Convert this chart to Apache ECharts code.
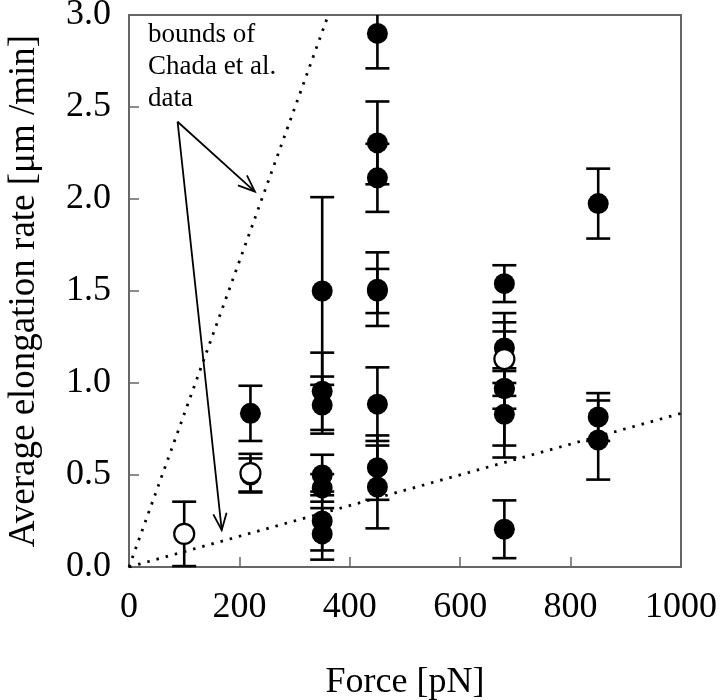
<!DOCTYPE html>
<html>
<head>
<meta charset="utf-8">
<script src="https://cdn.jsdelivr.net/npm/echarts@6/dist/echarts.min.js"></script>
<style>
html,body{margin:0;padding:0;background:#fff;}
#chart{width:720px;height:700px;}
</style>
</head>
<body>
<div id="chart"></div>
<script>
// ---- data ----
const forceFilled = [220, 220, 350, 350, 350, 350, 350, 350, 350, 450, 450, 450, 450, 450, 450, 450, 450, 680, 680, 680, 680, 680, 680, 850, 850, 850];
const rateFilled  = [0.835, 0.50, 1.50, 0.955, 0.88, 0.50, 0.43, 0.25, 0.18, 2.90, 2.305, 2.115, 1.51, 1.50, 0.885, 0.54, 0.435, 1.54, 1.19, 0.97, 0.97, 0.83, 0.205, 1.975, 0.815, 0.69];
const errFilled   = [0.15, 0.09, 0.51, 0.21, 0.155, 0.11, 0.075, 0.16, 0.14, 0.19, 0.225, 0.185, 0.20, 0.12, 0.20, 0.175, 0.225, 0.10, 0.19, 0.31, 0.11, 0.235, 0.157, 0.19, 0.13, 0.215];

const forceOpen = [100, 220, 680];
const rateOpen  = [0.18, 0.51, 1.13];
const errOpen   = [0.175, 0.105, 0.20];

// bounds of Chada et al. data (dotted lines)
const upperBound = [[0, 0], [361, 3.0]];
const lowerBound = [[0, 0], [1000, 0.835]];

// annotation arrow (tail, heads) in data units
const arrowTail = [88, 2.42];
const arrowHeads = [[228, 2.04], [168, 0.20]];
const annotationLines = ['bounds of', 'Chada et al.', 'data'];

const xTicks = [0, 200, 400, 600, 800, 1000];
const yTicks = [0.0, 0.5, 1.0, 1.5, 2.0, 2.5, 3.0];

const xMin = 0, xMax = 1000, yMin = 0, yMax = 3.0;
const FONT = "'Liberation Serif','Times New Roman',serif";

function zip3(a, b, c) { return a.map((v, i) => [v, b[i], c[i]]); }

const errData = zip3(forceFilled, rateFilled, errFilled).concat(zip3(forceOpen, rateOpen, errOpen));

function renderErr(params, api) {
  const x = api.value(0), y = api.value(1), e = api.value(2);
  const hi = Math.min(y + e, yMax), lo = Math.max(y - e, yMin);
  const pHi = api.coord([x, hi]), pLo = api.coord([x, lo]);
  const half = 12;
  const style = { stroke: '#000', lineWidth: 2.6 };
  const children = [
    { type: 'line', shape: { x1: pHi[0], y1: pHi[1], x2: pLo[0], y2: pLo[1] }, style }
  ];
  if (y + e <= yMax) children.push({ type: 'line', shape: { x1: pHi[0] - half, y1: pHi[1], x2: pHi[0] + half, y2: pHi[1] }, style });
  if (y - e >= yMin) children.push({ type: 'line', shape: { x1: pLo[0] - half, y1: pLo[1], x2: pLo[0] + half, y2: pLo[1] }, style });
  return { type: 'group', children };
}

function renderArrow(params, api) {
  const t = api.coord([api.value(0), api.value(1)]);
  const h = api.coord([api.value(2), api.value(3)]);
  const ang = Math.atan2(h[1] - t[1], h[0] - t[0]);
  const L = 18, a = 0.38;
  const p1 = [h[0] - L * Math.cos(ang - a), h[1] - L * Math.sin(ang - a)];
  const p2 = [h[0] - L * Math.cos(ang + a), h[1] - L * Math.sin(ang + a)];
  const style = { stroke: '#000', lineWidth: 1.8, fill: null };
  return {
    type: 'group', children: [
      { type: 'line', shape: { x1: t[0], y1: t[1], x2: h[0], y2: h[1] }, style },
      { type: 'polyline', shape: { points: [p1, h, p2] }, style }
    ]
  };
}

const chart = echarts.init(document.getElementById('chart'), null, { renderer: 'canvas' });
chart.setOption({
  animation: false,
  backgroundColor: '#fff',
  grid: { left: 129, right: 39, top: 15, bottom: 133, show: true, borderColor: '#666', borderWidth: 2,
    containLabel: false, outerBoundsMode: 'none' },
  xAxis: {
    type: 'value', min: xMin, max: xMax, interval: 200,
    name: 'Force [pN]', nameLocation: 'middle', nameGap: 98,
    nameTextStyle: { fontFamily: FONT, fontSize: 36, color: '#000' },
    axisLine: { show: true, lineStyle: { color: '#666', width: 2 } },
    axisTick: { show: true, inside: true, length: 10, lineStyle: { color: '#666', width: 1.5 } },
    axisLabel: { fontFamily: FONT, fontSize: 36, color: '#000', margin: 23,
      formatter: v => xTicks.includes(v) ? String(v) : '' },
    splitLine: { show: false }
  },
  yAxis: {
    type: 'value', min: yMin, max: yMax, interval: 0.5,
    name: 'Average elongation rate [μm /min]', nameLocation: 'middle', nameGap: 86,
    nameTextStyle: { fontFamily: FONT, fontSize: 37, color: '#000' },
    axisLine: { show: true, lineStyle: { color: '#666', width: 2 } },
    axisTick: { show: true, inside: true, length: 10, lineStyle: { color: '#666', width: 1.5 } },
    axisLabel: { fontFamily: FONT, fontSize: 36, color: '#000', margin: 18,
      formatter: v => yTicks.some(t => Math.abs(t - v) < 1e-9) ? v.toFixed(1) : '' },
    splitLine: { show: false }
  },
  graphic: [{
    type: 'text', left: 148, top: 19, z: 100,
    style: { text: annotationLines.join('\n'), font: '27px ' + FONT, fill: '#000', lineHeight: 32 }
  }],
  series: [
    { type: 'line', data: upperBound, showSymbol: false, symbol: 'none', z: 1,
      lineStyle: { color: '#000', width: 2.8, type: [2.5, 7] } },
    { type: 'line', data: lowerBound, showSymbol: false, symbol: 'none', z: 1,
      lineStyle: { color: '#000', width: 2.8, type: [2.5, 7] } },
    { type: 'custom', renderItem: renderArrow, z: 2,
      data: arrowHeads.map(h => [arrowTail[0], arrowTail[1], h[0], h[1]]) },
    { type: 'custom', renderItem: renderErr, data: errData, z: 3 },
    { type: 'scatter', data: forceFilled.map((x, i) => [x, rateFilled[i]]), z: 4,
      symbol: 'circle', symbolSize: 21, itemStyle: { color: '#000', opacity: 1 } },
    { type: 'scatter', data: forceOpen.map((x, i) => [x, rateOpen[i]]), z: 5,
      symbol: 'circle', symbolSize: 20, itemStyle: { color: '#fff', borderColor: '#000', borderWidth: 2.2, opacity: 1 } }
  ]
});
</script>
</body>
</html>
